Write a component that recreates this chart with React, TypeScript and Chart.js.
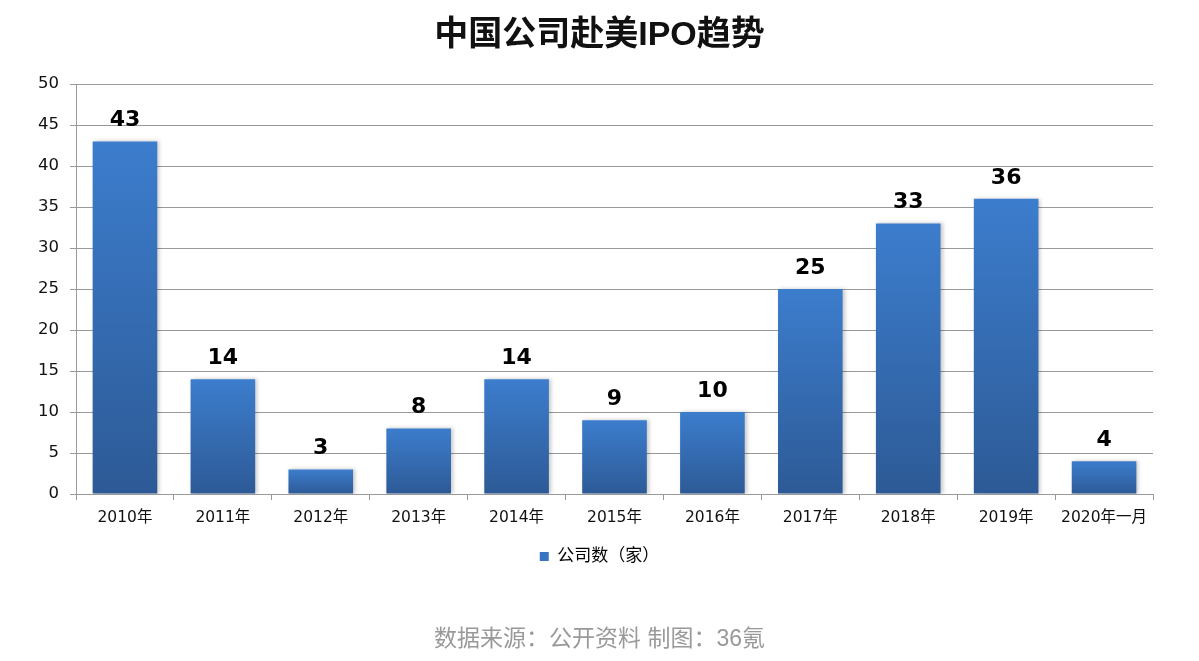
import { useEffect, useRef } from 'react';
import Chart from 'chart.js/auto';

const categories = ['2010年', '2011年', '2012年', '2013年', '2014年', '2015年', '2016年', '2017年', '2018年', '2019年', '2020年一月'];
const ipoCounts = [43, 14, 3, 8, 14, 9, 10, 25, 33, 36, 4];
const seriesName = '公司数（家）';
const chartTitle = '中国公司赴美IPO趋势';
const footerText = '数据来源：公开资料 制图：36氪';

const CJK = '"DejaVu Sans", "Noto Sans CJK SC", sans-serif';

// per-bar vertical gradient: lighter top, darker bottom
function barGradient(ctx: any) {
  const chart = ctx.chart;
  const y = chart.scales && chart.scales.y;
  if (!y || !chart.chartArea) return '#3a78c6';
  const top = y.getPixelForValue(ctx.raw);
  const base = y.getPixelForValue(0);
  if (!isFinite(top) || !isFinite(base) || base - top < 1) return '#3a78c6';
  const g = chart.ctx.createLinearGradient(0, top, 0, base);
  g.addColorStop(0, '#3c7dcd');
  g.addColorStop(1, '#2d5a96');
  return g;
}

const decorPlugin = {
  id: 'decor',
  beforeDatasetsDraw(chart: any) {
    const { ctx } = chart;
    ctx.save();
    ctx.shadowColor = 'rgba(0,0,0,0.22)';
    ctx.shadowBlur = 4;
    ctx.shadowOffsetX = 2;
    ctx.shadowOffsetY = 0;
  },
  afterDatasetsDraw(chart: any) {
    const { ctx } = chart;
    ctx.restore();
    const meta = chart.getDatasetMeta(0);
    ctx.save();
    ctx.font = 'bold 22px "DejaVu Sans", Verdana, sans-serif';
    ctx.fillStyle = '#000';
    ctx.textAlign = 'center';
    ctx.textBaseline = 'alphabetic';
    meta.data.forEach((bar: any, i: number) => {
      ctx.fillText(String(ipoCounts[i]), bar.x, bar.y - 15);
    });
    ctx.restore();
  },
  afterDraw(chart: any) {
    const { ctx, width } = chart;
    ctx.save();
    ctx.textAlign = 'center';
    ctx.textBaseline = 'middle';
    ctx.fillStyle = '#111';
    ctx.font = 'bold 34px "Liberation Sans", "Noto Sans CJK SC", sans-serif';
    ctx.fillText(chartTitle, width / 2, 36);
    ctx.fillStyle = '#999';
    ctx.font = '23px "Liberation Sans", "Noto Sans CJK SC", sans-serif';
    ctx.fillText(footerText, width / 2, 640);
    ctx.restore();
  },
};

export default function App() {
  const canvasRef = useRef<HTMLCanvasElement>(null);
  const chartRef = useRef<Chart | null>(null);

  useEffect(() => {
    if (!canvasRef.current) return;
    if (chartRef.current) chartRef.current.destroy();

    chartRef.current = new Chart(canvasRef.current, {
      type: 'bar',
      data: {
        labels: categories,
        datasets: [{
          label: seriesName,
          data: ipoCounts,
          backgroundColor: barGradient,
          borderWidth: 0,
          categoryPercentage: 0.66,
          barPercentage: 1,
        }],
      },
      options: {
        responsive: true,
        maintainAspectRatio: false,
        animation: false,
        layout: { padding: { top: 84, right: 0, bottom: 86, left: 0 } },
        plugins: {
          title: { display: false },
          tooltip: { enabled: false },
          legend: {
            position: 'bottom',
            labels: {
              boxWidth: 9,
              boxHeight: 9,
              color: '#111',
              font: { size: 17, family: CJK },
              padding: 10,
              generateLabels: () => [{
                text: seriesName,
                fillStyle: '#3a74c0',
                strokeStyle: '#3a74c0',
                lineWidth: 0,
                datasetIndex: 0,
              }],
            },
          },
        },
        scales: {
          x: {
            grid: {
              display: true,
              drawOnChartArea: false,
              drawTicks: true,
              tickLength: 6,
              color: '#999',
              offset: true,
            },
            border: { color: '#999', width: 1 },
            ticks: { color: '#111', font: { size: 15.5, family: CJK }, padding: 9, maxRotation: 0, autoSkip: false },
            afterFit: (s: any) => { s.height = 44; },
          },
          y: {
            min: 0,
            max: 50,
            grid: { color: '#999', tickLength: 6, lineWidth: 1 },
            border: { color: '#999', width: 1 },
            ticks: { stepSize: 5, color: '#111', font: { size: 16.5, family: CJK }, padding: 11 },
            afterFit: (s: any) => { s.width = 76; },
          },
          // empty right gutter so the legend stays centred on the page
          yRight: {
            position: 'right',
            display: true,
            grid: { display: false },
            border: { display: false },
            ticks: { display: false },
            afterFit: (s: any) => { s.width = 46; },
          },
        },
      },
      plugins: [decorPlugin],
    });

    return () => {
      if (chartRef.current) {
        chartRef.current.destroy();
        chartRef.current = null;
      }
    };
  }, []);

  return (
    <div style={{ position: 'fixed', left: 0, top: 0, width: 1199, height: 661, background: '#fff' }}>
      <canvas ref={canvasRef}></canvas>
    </div>
  );
}
